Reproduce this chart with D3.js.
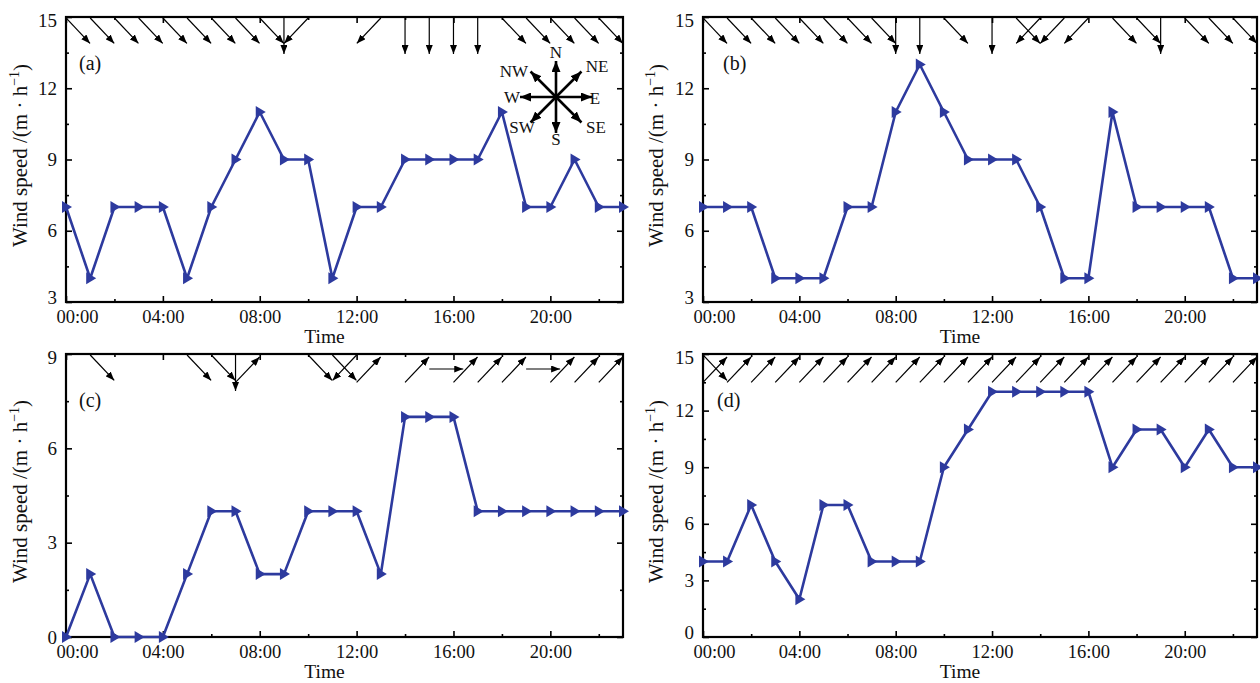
<!DOCTYPE html>
<html>
<head>
<meta charset="utf-8">
<script src="https://cdn.jsdelivr.net/npm/d3@7"></script>
<style>
  body { margin: 0; background: #fff; }
  svg text { font-family: "Liberation Serif", "DejaVu Serif", serif; fill: #111; }
</style>
</head>
<body>
<svg id="chart" width="1260" height="683"></svg>
<script>
// ---- data ----
const hours = [0,1,2,3,4,5,6,7,8,9,10,11,12,13,14,15,16,17,18,19,20,21,22,23];
const timeTicks = [0,4,8,12,16,20];
const timeLabels = ["00:00","04:00","08:00","12:00","16:00","20:00"];
const timeMinor = [2,6,10,14,18,22];

const speedA = [7,4,7,7,7,4,7,9,11,9,9,4,7,7,9,9,9,9,11,7,7,9,7,7];
const speedB = [7,7,7,4,4,4,7,7,11,13,11,9,9,9,7,4,4,11,7,7,7,7,4,4];
const speedC = [0,2,0,0,0,2,4,4,2,2,4,4,4,2,7,7,7,4,4,4,4,4,4,4];
const speedD = [4,4,7,4,2,7,7,4,4,4,9,11,13,13,13,13,13,9,11,11,9,11,9,9];

// wind direction per hour ("" = no arrow, "a+b" = two arrows)
const dirA = ["SE","SE","SE","SE","SE","SE","SE","SE","SE","S","SW","","","SW","S","S","S","S","SE","SE","SE","SE","SE","SE"];
const dirB = ["SE","SE","SE","SE","SE","SE","SE","SE","S","S","SE","","S","SE","SW","SW","SW","SE","SE","S","SE","SE","SE","SE"];
const dirC = ["","SE","","","","SE","SE","S+NE","","","SE","SE","SW+NE","","NE","E","NE","NE","NE","E","NE","NE","NE","NE"];
const dirD = ["SE+NE","NE","NE","NE","NE","NE","NE","NE","NE","NE","NE","NE","NE","NE","NE","NE","NE","NE","NE","NE","NE","NE","NE","NE"];

const yTicksA = [3,6,9,12,15];
const yTicksB = [3,6,9,12,15];
const yTicksC = [0,3,6,9];
const yTicksD = [0,3,6,9,12,15];

const compassDirs = ["N","NE","E","SE","S","SW","W","NW"];

const BLUE = "#2d3a9e";
const ANG = {N:0, NE:45, E:90, SE:135, S:180, SW:225, W:270, NW:315};

const svg = d3.select("#chart");

const defs = svg.append("defs");
function headMarker(id, w, h){
  defs.append("marker")
    .attr("id", id).attr("viewBox", `0 0 ${w} ${h}`)
    .attr("refX", w).attr("refY", h/2)
    .attr("markerWidth", w).attr("markerHeight", h)
    .attr("markerUnits", "userSpaceOnUse").attr("orient", "auto")
    .append("path").attr("d", `M0,0L${w},${h/2}L0,${h}Z`).attr("fill", "#000");
}
headMarker("head", 9, 7);
headMarker("bighead", 11, 9);

const panels = [
  {key:"a", speed:speedA, dir:dirA, yt:yTicksA, dom:[3,15], x0:66, x1:623, y0:17, y1:302, titleX:20, labDx:13},
  {key:"b", speed:speedB, dir:dirB, yt:yTicksB, dom:[3,15], x0:703, x1:1257, y0:17, y1:302, titleX:656, labDx:20},
  {key:"c", speed:speedC, dir:dirC, yt:yTicksC, dom:[0,9], x0:66, x1:623, y0:354, y1:637, titleX:20, labDx:13},
  {key:"d", speed:speedD, dir:dirD, yt:yTicksD, dom:[0,15], x0:703, x1:1257, y0:354, y1:637, titleX:656, labDx:14},
];

panels.forEach(p=>{
  const x = d3.scaleLinear().domain([0,23]).range([p.x0, p.x1]);
  const y = d3.scaleLinear().domain(p.dom).range([p.y1, p.y0]);
  const g = svg.append("g");

  defs.append("clipPath").attr("id", "clip-"+p.key)
    .append("rect").attr("x", p.x0).attr("y", p.y0)
    .attr("width", p.x1-p.x0).attr("height", p.y1-p.y0);

  // minor y ticks at the midpoints
  const yMinor = p.yt.slice(1).map((v,i)=>(v+p.yt[i])/2);

  // axes: inward ticks, mirrored on top/right
  const bottom = g.append("g").attr("transform", `translate(0,${p.y1})`)
    .call(d3.axisBottom(x).tickValues(timeTicks).tickSize(-6).tickSizeOuter(0)
      .tickFormat((d,i)=>timeLabels[i]));
  bottom.selectAll("text").attr("font-size", 18.5).attr("y", 8).attr("dy", "0.71em")
    .attr("dx", d=> d===0 ? 11 : 0);
  g.append("g").attr("transform", `translate(0,${p.y1})`)
    .call(d3.axisBottom(x).tickValues(timeMinor).tickSize(-3).tickSizeOuter(0).tickFormat(""));
  g.append("g").attr("transform", `translate(0,${p.y0})`)
    .call(d3.axisTop(x).tickValues(timeTicks).tickSize(-6).tickSizeOuter(0).tickFormat(""));
  g.append("g").attr("transform", `translate(0,${p.y0})`)
    .call(d3.axisTop(x).tickValues(timeMinor).tickSize(-3).tickSizeOuter(0).tickFormat(""));

  const left = g.append("g").attr("transform", `translate(${p.x0},0)`)
    .call(d3.axisLeft(y).tickValues(p.yt).tickSize(-6).tickSizeOuter(0));
  left.selectAll("text").attr("font-size", 19).attr("x", -9)
    .attr("transform", d=> d===p.dom[0] && p.key!=="c" ? "translate(0,-5)" : (d===p.dom[1] ? "translate(0,3)" : null));
  g.append("g").attr("transform", `translate(${p.x0},0)`)
    .call(d3.axisLeft(y).tickValues(yMinor).tickSize(-3).tickSizeOuter(0).tickFormat(""));
  g.append("g").attr("transform", `translate(${p.x1},0)`)
    .call(d3.axisRight(y).tickValues(p.yt).tickSize(-6).tickSizeOuter(0).tickFormat(""));
  g.append("g").attr("transform", `translate(${p.x1},0)`)
    .call(d3.axisRight(y).tickValues(yMinor).tickSize(-3).tickSizeOuter(0).tickFormat(""));

  g.selectAll(".domain").remove();
  g.selectAll(".tick line").attr("stroke", "#000").attr("stroke-width", 1.6);

  // frame
  g.append("rect").attr("x", p.x0).attr("y", p.y0)
    .attr("width", p.x1-p.x0).attr("height", p.y1-p.y0)
    .attr("fill", "none").attr("stroke", "#000").attr("stroke-width", 2.2);

  // titles
  g.append("text").attr("x", (p.x0+p.x1)/2 - 20).attr("y", p.y1+41)
    .attr("text-anchor", "middle").attr("font-size", 19.5).text("Time");
  const yt = g.append("text")
    .attr("transform", `translate(${p.titleX},${(p.y0+p.y1)/2 - 4}) rotate(-90)`)
    .attr("text-anchor", "middle").attr("dy", "0.35em").attr("font-size", 21);
  yt.append("tspan").text("Wind speed /(m \u00b7 h");
  yt.append("tspan").attr("font-size", 14).attr("dy", "-0.6em").text("\u22121");
  yt.append("tspan").attr("dy", "0.42em").text(")");

  g.append("text").attr("x", p.x0+p.labDx).attr("y", p.y0+46)
    .attr("dy", "0.35em").attr("font-size", 20).text(`(${p.key})`);

  // wind arrows along the top of the frame
  const arrows = [];
  p.dir.forEach((d,i)=>{
    if(!d) return;
    d.split("+").forEach(k=>arrows.push({h:hours[i], k}));
  });
  g.append("g").attr("clip-path", `url(#clip-${p.key})`)
    .selectAll("line").data(arrows).enter().append("line")
    .each(function(d){
      const a = ANG[d.k]*Math.PI/180;
      const vx = 34*Math.sin(a), vy = -36*Math.cos(a);
      const tx = x(d.h);
      const ty = vy > 1 ? p.y0+1 : (vy < -1 ? p.y0+3-vy : p.y0+15);
      d3.select(this).attr("x1", tx).attr("y1", ty).attr("x2", tx+vx).attr("y2", ty+vy);
    })
    .attr("stroke", "#000").attr("stroke-width", 1.2)
    .attr("marker-end", "url(#head)");

  // speed line + right-pointing triangles
  const pts = hours.map((h,i)=>({h, v:p.speed[i]}));
  g.append("path").datum(pts)
    .attr("d", d3.line().x(d=>x(d.h)).y(d=>y(d.v)))
    .attr("fill", "none").attr("stroke", BLUE).attr("stroke-width", 2.6)
    .attr("stroke-linejoin", "round");
  g.selectAll("path.tri").data(pts).enter().append("path")
    .attr("class", "tri")
    .attr("transform", d=>`translate(${x(d.h)},${y(d.v)})`)
    .attr("d", "M-4,-6L6,0L-4,6Z")
    .attr("fill", BLUE);

  // compass rose in panel (a)
  if(p.key==="a"){
    const cx = 556, cy = 97, R = 36;
    const cg = g.append("g");
    compassDirs.forEach(k=>{
      const a = ANG[k]*Math.PI/180;
      cg.append("line").attr("x1", cx).attr("y1", cy)
        .attr("x2", cx+R*Math.sin(a)).attr("y2", cy-R*Math.cos(a))
        .attr("stroke", "#000").attr("stroke-width", 2.6)
        .attr("marker-end", "url(#bighead)");
    });
    const labPos = {N:[556,52], NE:[597,66], E:[595,98], SE:[596,127], S:[556,139], SW:[522,127], W:[512,97], NW:[514,71]};
    compassDirs.forEach(k=>{
      cg.append("text").attr("x", labPos[k][0]).attr("y", labPos[k][1])
        .attr("text-anchor", "middle").attr("dy", "0.35em").attr("font-size", 17).text(k);
    });
  }
});
</script>
</body>
</html>
